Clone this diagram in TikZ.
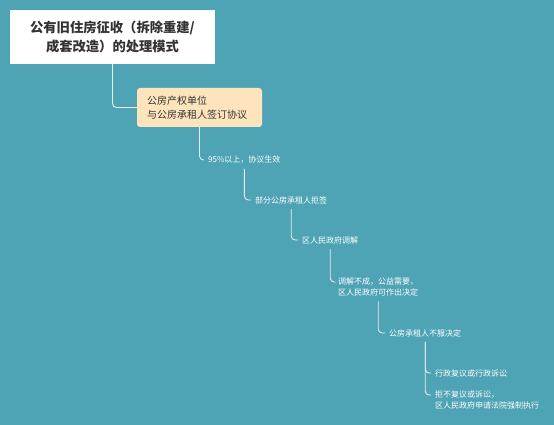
\documentclass[tikz,border=0pt]{standalone}
\usepackage{fontspec}
\setmainfont{Noto Sans CJK SC}
\definecolor{bg}{HTML}{4EA3B4}
\definecolor{boxfill}{HTML}{FDE4BC}
\definecolor{darktext}{HTML}{333333}
\definecolor{conn}{HTML}{E8EEF0}
\begin{document}
\begin{tikzpicture}[x=1pt,y=-1pt,
  titlebox/.style={fill=white,draw=none,minimum width=205pt,minimum height=54pt,align=center,
    font=\fontsize{13.3}{19}\selectfont\bfseries,text=darktext,inner sep=0pt},
  subbox/.style={fill=boxfill,draw=none,rounded corners=3pt,minimum width=125pt,minimum height=39pt,
    inner xsep=10pt,text width=105pt,align=left,font=\fontsize{10}{14.5}\selectfont,text=darktext},
  leaf/.style={font=\fontsize{8}{10.5}\selectfont,text=white,inner xsep=0pt,inner ysep=5pt,align=left},
  link/.style={draw=conn,line width=0.9pt,rounded corners=4pt}]
\fill[bg] (0,0) rectangle (554,425);
\useasboundingbox (0,0) rectangle (554,425);

\node[titlebox] (title) at (112.5,37) {公有旧住房征收（拆除重建/\\成套改造）的处理模式};
\node[subbox] (b2) at (199.5,107.5) {公房产权单位\\与公房承租人签订协议};

\node[leaf,anchor=west] (n1) at (208,160) {95\%以上，协议生效};
\node[leaf,anchor=west] (n2) at (255,200) {部分公房承租人拒签};
\node[leaf,anchor=west] (n3) at (302,240) {区人民政府调解};
\node[leaf,anchor=north west] (n4) at (338,273) {调解不成，公益需要，\\区人民政府可作出决定};
\node[leaf,anchor=west] (n5) at (389,333) {公房承租人不服决定};
\node[leaf,anchor=west] (n6) at (435,373) {行政复议或行政诉讼};
\node[leaf,anchor=north west] (n7) at (435,386) {拒不复议或诉讼，\\区人民政府申请法院强制执行};

\draw[link] (title.south) |- (b2.west);
\draw[link] (b2.south) |- ([xshift=-4pt]n1.west);
\draw[link] (n1.south) |- ([xshift=-4pt]n2.west);
\draw[link] (n2.south) |- ([xshift=-4pt]n3.west);
\draw[link] (n3.south) |- ([xshift=-4pt,yshift=-9pt]n4.north west);
\draw[link] (n4.south) |- ([xshift=-4pt]n5.west);
\draw[link] (n5.south) |- ([xshift=-4pt]n6.west);
\draw[link] (n5.south) |- ([xshift=-4pt,yshift=-9pt]n7.north west);
\end{tikzpicture}
\end{document}
